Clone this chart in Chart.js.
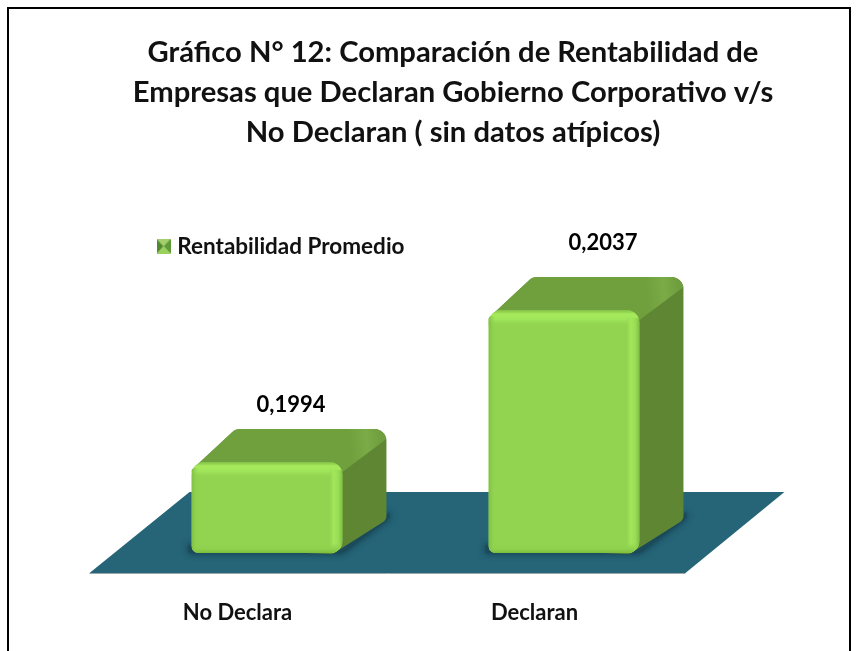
<!DOCTYPE html>
<html><head><meta charset="utf-8">
<style>html,body{margin:0;padding:0;background:#fff;overflow:hidden}canvas{display:block;filter:blur(0.4px)}</style>
<script src="https://cdn.jsdelivr.net/npm/chart.js@4"></script>
</head><body>
<canvas id="c" width="857" height="651"></canvas>
<script>
const titleLines = ["Gráfico N° 12: Comparación de Rentabilidad de","Empresas que Declaran Gobierno Corporativo v/s","No Declaran ( sin datos atípicos)"];
const categories = ["No Declara","Declaran"];
const seriesName = "Rentabilidad Promedio";
const rentabilidad = [0.1994,0.2037];
const valueLabels = ["0,1994","0,2037"];
const axisMin = 0.196826, axisMax = 0.20738;

const FONT = "Lato, Carlito, Calibri, sans-serif";
const DX = 44, DY = 33;
const labelDX = [24, 39], labelDY = [57, 67];
const barRadius = {topLeft:13,topRight:13,bottomLeft:7,bottomRight:12};

function swatch(){
  const s=document.createElement('canvas');s.width=14;s.height=15;const g=s.getContext('2d');
  const W=14,H=15,tri=(c,a,b,d,e)=>{g.fillStyle=c;g.beginPath();g.moveTo(W/2,H/2);g.lineTo(a,b);g.lineTo(d,e);g.fill();};
  tri('#a3cf6a',0,0,W,0);tri('#5e9a36',W,0,W,H);tri('#9ad05c',W,H,0,H);tri('#4f8a2c',0,H,0,0);
  return s;
}
const swatchImg = swatch();

function rpoly(ctx,pts,radii){
  ctx.beginPath();
  const n=pts.length,m=(a,b)=>[(a[0]+b[0])/2,(a[1]+b[1])/2],s=m(pts[n-1],pts[0]);
  ctx.moveTo(s[0],s[1]);
  for(let i=0;i<n;i++){const p=pts[i],q=pts[(i+1)%n],e=m(p,q);ctx.arcTo(p[0],p[1],e[0],e[1],radii[i]);ctx.lineTo(e[0],e[1]);}
  ctx.closePath();
}
const scene = {
  id:'scene',
  afterLayout(chart){
    const l=chart.legend;const w=l.width,h=l.height;
    l.left=151;l.right=151+w;l.top=225;l.bottom=225+h;
    chart.titleBlock.left=0;chart.titleBlock.right=906;
  },
  beforeDraw(chart){
    const c=chart.ctx;c.save();
    c.fillStyle='#fff';c.fillRect(0,0,857,651);
    c.strokeStyle='#000';c.lineWidth=2;
    c.beginPath();c.moveTo(8,660);c.lineTo(8,8);c.lineTo(850,8);c.lineTo(850,660);c.stroke();
    c.restore();
  },
  beforeDatasetsDraw(chart){
    const c=chart.ctx,meta=chart.getDatasetMeta(0),b=chart.scales.y.bottom;
    c.save();
    const x0=meta.data[0],x1=meta.data[1];
    const hw=x0.width/2;
    c.fillStyle='#256577';
    c.beginPath();
    c.moveTo(x0.x-hw-102,b+20);
    c.lineTo(x1.x+hw+46,b+20);
    c.lineTo(x1.x+hw+145,b-61);
    c.lineTo(x0.x-hw-2,b-61);
    c.closePath();c.fill();
    c.strokeStyle='#9aa7aa';c.lineWidth=1;
    c.beginPath();c.moveTo(x0.x-hw-102,b+20.5);c.lineTo(x1.x+hw+46,b+20.5);c.stroke();
    meta.data.forEach(bar=>{
      const L=bar.x-bar.width/2,R=bar.x+bar.width/2,T=bar.y,B=bar.base;
      c.save();
      c.shadowColor='rgba(10,40,55,0.85)';c.shadowBlur=7;
      c.fillStyle='#1b4a5a';
      c.beginPath();c.moveTo(L-3,B);c.lineTo(R,B);c.lineTo(R+DX+3,B-DY-2);c.lineTo(R+DX+3,B-DY-8);c.lineTo(R,B-8);c.lineTo(L-3,B-8);c.closePath();c.fill();
      c.restore();
      // silhouette of the back of the block, in the side colour
      const shape=[[L,T+8],[L+DX,T-DY],[R+DX,T-DY],[R+DX,B-DY],[R-10,B+1],[L+10,B-4]];
      const radii=[2,12,12,8,6,0];
      c.fillStyle='#5f8733';
      rpoly(c,shape,radii);c.fill();
      // top face, clipped to the silhouette
      c.save();rpoly(c,shape,radii);c.clip();
      const g=c.createLinearGradient(R-18,T-6,R+DX-4,T-DY+20);
      g.addColorStop(0,'#6fa03d');g.addColorStop(0.45,'#6fa03d');g.addColorStop(0.75,'#7bab47');g.addColorStop(1,'#6f9e3e');
      c.fillStyle=g;
      c.beginPath();c.moveTo(L-2,T+4);c.lineTo(L-2,T-DY-4);c.lineTo(R+DX+4,T-DY-4);c.lineTo(R+DX+4,T-DY+7);c.lineTo(R-4,T+13);c.closePath();c.fill();
      c.restore();
    });
    c.restore();
  },
  afterDatasetsDraw(chart){
    const c=chart.ctx,meta=chart.getDatasetMeta(0);
    c.save();
    meta.data.forEach((bar,i)=>{
      const L=bar.x-bar.width/2,R=bar.x+bar.width/2,T=bar.y,B=bar.base,w=R-L,h=B-T;
      c.save();c.beginPath();c.roundRect(L,T,w,h,[13,13,12,7]);c.clip();
      let g=c.createLinearGradient(0,T,0,T+16);
      g.addColorStop(0,'rgba(130,190,70,.9)');g.addColorStop(.25,'#a6ea5c');g.addColorStop(.6,'#a0e45a');g.addColorStop(1,'rgba(146,212,80,0)');
      c.fillStyle=g;c.fillRect(L,T,w,16);
      g=c.createLinearGradient(R-14,0,R,0);
      g.addColorStop(0,'rgba(146,212,80,0)');g.addColorStop(.35,'#a2e65b');g.addColorStop(.7,'#9ade55');g.addColorStop(1,'#7fbf45');
      c.fillStyle=g;c.fillRect(R-14,T+8,14,h-8);
      g=c.createLinearGradient(0,B-10,0,B);
      g.addColorStop(0,'rgba(146,212,80,0)');g.addColorStop(.6,'#8fd14c');g.addColorStop(1,'#7dbe3f');
      c.fillStyle=g;c.fillRect(L,B-10,w,10);
      g=c.createLinearGradient(L,0,L+7,0);
      g.addColorStop(0,'#7fbe44');g.addColorStop(1,'rgba(146,212,80,0)');
      c.fillStyle=g;c.fillRect(L,T+6,7,h-6);
      c.restore();
      c.fillStyle='#000';c.font='700 22px '+FONT;c.textAlign='center';c.textBaseline='middle';
      c.fillText(valueLabels[i],bar.x+labelDX[i],T-labelDY[i]);
    });
    c.restore();
  }
};
new Chart(document.getElementById('c'),{
  type:'bar',
  data:{labels:categories,datasets:[{label:seriesName,data:rentabilidad,base:axisMin,backgroundColor:'#92d450',borderWidth:0,borderRadius:barRadius,borderSkipped:false,categoryPercentage:0.8,barPercentage:0.635}]},
  options:{
    responsive:false,animation:false,devicePixelRatio:1,
    layout:{padding:{left:118.5,right:144.5,top:33,bottom:0}},
    plugins:{
      tooltip:{enabled:false},
      title:{display:true,text:titleLines,color:'#111',font:{family:FONT,size:29.2,weight:'700',lineHeight:1.37},padding:{top:0,bottom:27}},
      legend:{position:'chartArea',align:'start',labels:{usePointStyle:true,pointStyleWidth:5,color:'#111',font:{family:FONT,size:22.5,weight:'700'},padding:10,
        generateLabels:(ch)=>[{text:seriesName,pointStyle:swatchImg,datasetIndex:0,fontColor:'#111',hidden:false,lineWidth:0}]}}
    },
    scales:{
      x:{afterFit:(s)=>{s.height=98;},grid:{display:false},border:{display:false},ticks:{color:'#111',padding:39,labelOffset:-29.5,maxRotation:0,font:{family:FONT,size:22,weight:'700'}}},
      y:{display:false,min:axisMin,max:axisMax}
    }
  },
  plugins:[scene]
});
</script>
</body></html>
